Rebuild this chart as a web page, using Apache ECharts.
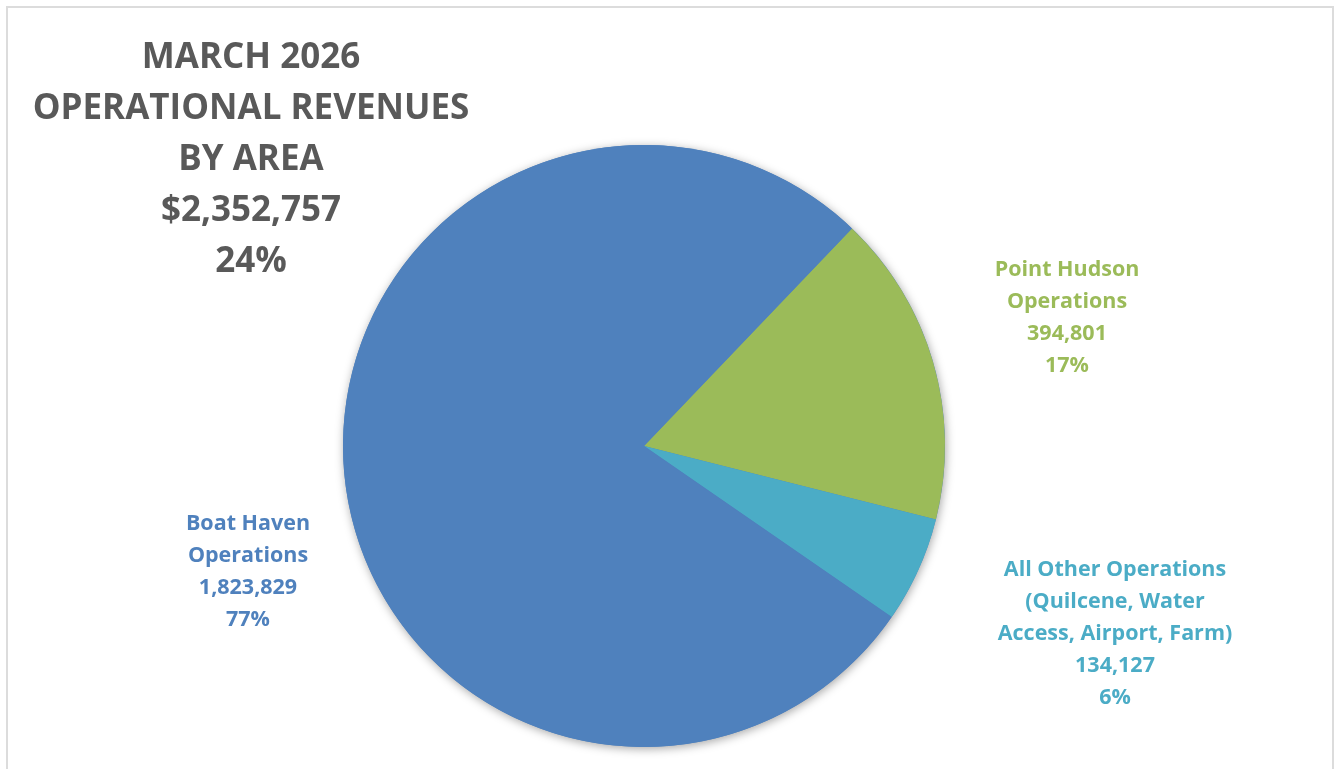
<!DOCTYPE html>
<html>
<head>
<meta charset="utf-8">
<script src="https://cdn.jsdelivr.net/npm/echarts@6/dist/echarts.min.js"></script>
<style>
  html, body { margin: 0; padding: 0; background: #ffffff; }
  #chart { width: 1335px; height: 769px; }
</style>
</head>
<body>
<div id="chart"></div>
<script>
// ---- data ----
const titleLines = ['MARCH 2026', 'OPERATIONAL REVENUES', 'BY AREA', '$2,352,757', '24%'];
const categories = ['Point Hudson\nOperations', 'All Other Operations\n(Quilcene, Water\nAccess, Airport, Farm)', 'Boat Haven\nOperations'];
const values = [394801, 134127, 1823829];
const colors = ['#9BBB59', '#4BACC6', '#4F81BD'];

// ---- layout (label anchors, not data) ----
const labelAnchors = [[1067, 318], [1115, 634], [248, 572]];

const chart = echarts.init(document.getElementById('chart'), null, { renderer: 'canvas' });
const FONT = '"Open Sans", "Liberation Sans", sans-serif';
const total = values.reduce((a, b) => a + b, 0);

chart.setOption({
  animation: false,
  backgroundColor: '#ffffff',
  title: {
    text: titleLines.join('\n'),
    left: 246,
    top: 28,
    textAlign: 'center',
    textStyle: {
      fontFamily: FONT,
      fontWeight: 'bold',
      fontSize: 35,
      lineHeight: 51,
      color: '#595959'
    }
  },
  graphic: [{
    type: 'rect',
    shape: { x: 7, y: 7, width: 1326, height: 800 },
    style: { fill: 'none', stroke: '#dcdcdc', lineWidth: 2 },
    silent: true
  }],
  series: [{
    // shadow disc behind the pie
    type: 'pie',
    center: [644, 446],
    radius: 301,
    silent: true,
    z: 1,
    data: [{ value: total, name: 'shadow' }],
    itemStyle: {
      color: '#4F81BD',
      shadowBlur: 10,
      shadowColor: 'rgba(0,0,0,0.35)',
      shadowOffsetX: 1,
      shadowOffsetY: 2
    },
    label: { show: false },
    labelLine: { show: false },
    emphasis: { disabled: true },
    tooltip: { show: false }
  }, {
    type: 'pie',
    center: [644, 446],
    radius: 301,
    startAngle: 46.3,
    clockwise: true,
    percentPrecision: 0,
    z: 2,
    data: categories.map((c, i) => ({
      name: c,
      value: values[i],
      itemStyle: { color: colors[i] },
      label: { color: colors[i] }
    })),
    itemStyle: { borderWidth: 0 },
    label: {
      show: true,
      position: 'outside',
      formatter: p => p.name + '\n' + p.value.toLocaleString('en-US') + '\n' + p.percent + '%',
      fontFamily: FONT,
      fontWeight: 'bold',
      fontSize: 21.5,
      lineHeight: 32,
      align: 'center'
    },
    labelLine: { show: false },
    labelLayout: params => ({
      x: labelAnchors[params.dataIndex][0],
      y: labelAnchors[params.dataIndex][1],
      align: 'center',
      verticalAlign: 'middle'
    }),
    emphasis: { disabled: true }
  }]
});
</script>
</body>
</html>
